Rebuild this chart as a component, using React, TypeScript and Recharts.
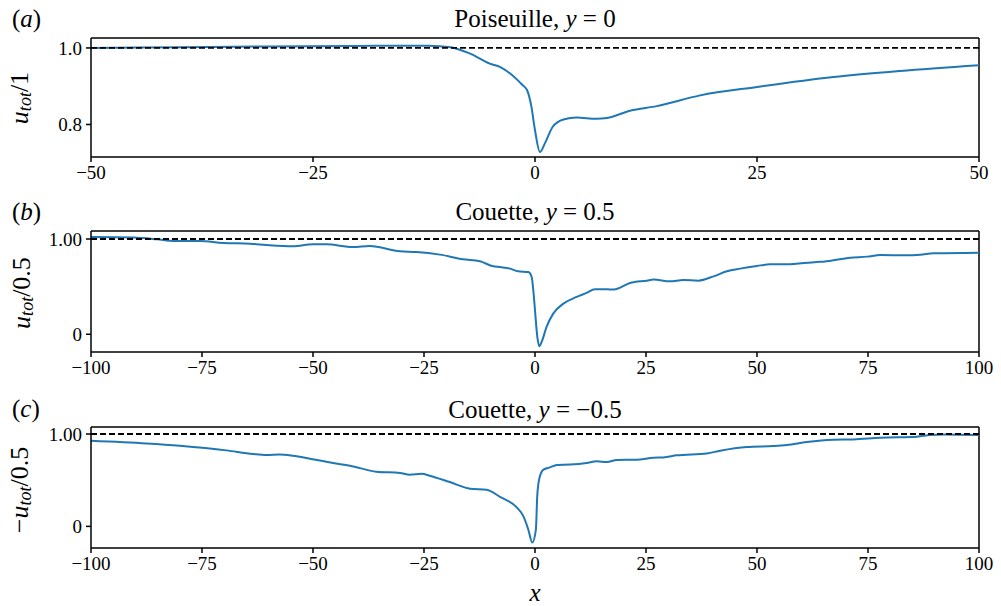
import React from 'react';
import { LineChart, Line, XAxis, YAxis, ReferenceLine } from 'recharts';

// (a) Poiseuille, y = 0
const poisX = [-50, -40, -30, -20, -15, -12, -9.5, -7.3, -5.1, -3.9, -2.8, -1.5, -0.9, -0.4, 0, 0.56, 1.1, 2.0, 3.2, 4.7, 6.9, 8.1, 10.7, 13.7, 18.6, 25, 33.6, 41.1, 50];
const poisU = [1.0, 1.002, 1.004, 1.005, 1.006, 1.006, 1.002, 0.985, 0.959, 0.95, 0.933, 0.905, 0.89, 0.846, 0.785, 0.728, 0.75, 0.794, 0.813, 0.818, 0.815, 0.817, 0.836, 0.848, 0.876, 0.898, 0.924, 0.94, 0.955];

// (b) Couette, y = 0.5
const topX = [-100, -90.4, -85.1, -81.4, -75.5, -70.2, -64.2, -60.5, -54.5, -50, -47, -41, -37.2, -30.4, -26.7, -21.4, -16.2, -12.4, -9.4, -7.9, -5.6, -3.8, -1.5, -0.75, -0.38, 0, 0.53, 0.98, 1.5, 2.6, 4.1, 6.4, 9.4, 11.6, 13.5, 16.2, 17.7, 19.2, 21.4, 25.2, 26.7, 30.4, 33.4, 36.8, 40.2, 43.2, 46.2, 50, 53, 56.7, 63.5, 65, 71, 74.8, 77.8, 83.8, 86.8, 89.8, 100];
const topU = [1.02, 1.015, 0.997, 0.98, 0.98, 0.958, 0.951, 0.937, 0.923, 0.944, 0.944, 0.916, 0.927, 0.871, 0.864, 0.836, 0.787, 0.766, 0.713, 0.706, 0.689, 0.661, 0.654, 0.601, 0.46, 0.25, -0.03, -0.126, -0.08, 0.077, 0.217, 0.322, 0.392, 0.434, 0.472, 0.472, 0.469, 0.49, 0.538, 0.563, 0.574, 0.556, 0.57, 0.563, 0.608, 0.661, 0.689, 0.717, 0.734, 0.734, 0.759, 0.762, 0.804, 0.815, 0.832, 0.829, 0.836, 0.85, 0.857];

// (c) Couette, y = -0.5
const botX = [-100, -87.5, -80, -69.5, -63.5, -60.5, -57.5, -54.5, -50.7, -45.5, -41.7, -35.7, -30.4, -28.2, -25.5, -23.7, -19.2, -14.6, -10.9, -7.9, -4.1, -2.6, -1.5, -0.6, 0.2, 0.5, 1.0, 1.9, 3.4, 4.9, 7.9, 11.6, 13.9, 16.2, 18.4, 22.9, 26.7, 28.9, 31.9, 38.7, 41.7, 47.7, 53.7, 56.7, 61.2, 67.2, 71.7, 77.8, 86, 89, 92, 100];
const botU = [0.927, 0.898, 0.873, 0.823, 0.783, 0.772, 0.779, 0.765, 0.733, 0.686, 0.657, 0.592, 0.578, 0.56, 0.57, 0.549, 0.48, 0.408, 0.397, 0.32, 0.206, 0.108, -0.036, -0.175, -0.036, 0.325, 0.524, 0.614, 0.639, 0.664, 0.669, 0.686, 0.705, 0.697, 0.72, 0.722, 0.744, 0.747, 0.769, 0.79, 0.819, 0.859, 0.87, 0.881, 0.913, 0.938, 0.942, 0.96, 0.971, 0.989, 0.996, 0.99];

const poisXTicks = [-50, -25, 0, 25, 50];
const wideXTicks = [-100, -75, -50, -25, 0, 25, 50, 75, 100];
const poisYTicks = [0.8, 1.0];
const poisYLabels = ['0.8', '1.0'];
const coueYTicks = [0, 1];
const coueYLabels = ['0', '1.00'];

const SERIF = '"Liberation Serif", "DejaVu Serif", serif';
const BLUE = '#1f77b4';
const MINUS = '\u2212';

const fmtX = (v: number) => (v < 0 ? MINUS + Math.abs(v) : String(v));

// serif tick labels drawn at the positions recharts hands us
const XTick = (props: any) => (
  <text x={props.x} y={props.y} dy="0.71em" textAnchor="middle" fontFamily={SERIF} fontSize={19} fill="#000">
    {fmtX(props.payload.value)}
  </text>
);

const makeYTick = (ticks: number[], labels: string[]) => (props: any) => (
  <text x={props.x} y={props.y} dy="0.355em" textAnchor="end" fontFamily={SERIF} fontSize={19} fill="#000">
    {labels[ticks.indexOf(props.payload.value)] ?? String(props.payload.value)}
  </text>
);

interface PanelProps {
  x: number[];
  u: number[];
  xDomain: [number, number];
  xTicks: number[];
  yDomain: [number, number];
  yTicks: number[];
  yLabels: string[];
  top: number;
  plotH: number;
}

function Panel({ x, u, xDomain, xTicks, yDomain, yTicks, yLabels, top, plotH }: PanelProps) {
  const data = x.map((xv, i) => ({ x: xv, u: u[i] }));
  const axisStyle = { stroke: '#000', strokeWidth: 1.5 };
  return (
    <div style={{ position: 'absolute', left: 0, top: top - 40 }}>
      <LineChart
        width={1001}
        height={plotH + 80}
        data={data}
        margin={{ top: 40, right: 22, bottom: 10, left: 31 }}
      >
        <XAxis
          dataKey="x"
          type="number"
          domain={xDomain}
          ticks={xTicks}
          allowDataOverflow
          interval={0}
          height={30}
          axisLine={axisStyle}
          tickLine={axisStyle}
          tickSize={5}
          tickMargin={4}
          tick={XTick}
        />
        <YAxis
          type="number"
          domain={yDomain}
          ticks={yTicks}
          allowDataOverflow
          interval={0}
          width={60}
          axisLine={axisStyle}
          tickLine={axisStyle}
          tickSize={5}
          tickMargin={4}
          tick={makeYTick(yTicks, yLabels)}
        />
        {/* top and right spines */}
        <ReferenceLine y={yDomain[1]} stroke="#000" strokeWidth={1.5} />
        <ReferenceLine x={xDomain[1]} stroke="#000" strokeWidth={1.5} />
        <Line
          type="monotone"
          dataKey="u"
          stroke={BLUE}
          strokeWidth={2}
          dot={false}
          activeDot={false}
          isAnimationActive={false}
        />
        <ReferenceLine y={1} stroke="#000" strokeWidth={1.8} strokeDasharray="6 3" />
      </LineChart>
    </div>
  );
}

function YLab({ cx, cy, pre, den }: { cx: number; cy: number; pre?: string; den: string }) {
  return (
    <text
      x={cx}
      y={cy}
      transform={`rotate(-90 ${cx} ${cy})`}
      textAnchor="middle"
      dominantBaseline="middle"
      fontFamily={SERIF}
      fontSize={26}
    >
      {pre}
      <tspan fontStyle="italic">u</tspan>
      <tspan fontStyle="italic" fontSize={18} dy={5}>tot</tspan>
      <tspan dy={-5}>/{den}</tspan>
    </text>
  );
}

function Title({ y, pre, post }: { y: number; pre: string; post: string }) {
  return (
    <text x={535} y={y} textAnchor="middle" fontFamily={SERIF} fontSize={25}>
      {pre}
      <tspan fontStyle="italic">y</tspan>
      {post}
    </text>
  );
}

function Tag({ y, letter }: { y: number; letter: string }) {
  return (
    <text x={12} y={y} fontFamily={SERIF} fontSize={25}>
      (<tspan fontStyle="italic">{letter}</tspan>)
    </text>
  );
}

export default function App() {
  return (
    <div style={{ position: 'absolute', left: 0, top: 0, width: 1001, height: 606, background: '#fff', fontFamily: SERIF }}>
      <Panel x={poisX} u={poisU} xDomain={[-50, 50]} xTicks={poisXTicks} yDomain={[0.715, 1.026]} yTicks={poisYTicks} yLabels={poisYLabels} top={38} plotH={119} />
      <Panel x={topX} u={topU} xDomain={[-100, 100]} xTicks={wideXTicks} yDomain={[-0.186, 1.084]} yTicks={coueYTicks} yLabels={coueYLabels} top={231} plotH={121} />
      <Panel x={botX} u={botU} xDomain={[-100, 100]} xTicks={wideXTicks} yDomain={[-0.234, 1.076]} yTicks={coueYTicks} yLabels={coueYLabels} top={427} plotH={121} />
      <svg width={1001} height={606} style={{ position: 'absolute', left: 0, top: 0, pointerEvents: 'none' }}>
        <Tag y={27} letter="a" />
        <Tag y={220} letter="b" />
        <Tag y={417} letter="c" />
        <Title y={27} pre="Poiseuille, " post=" = 0" />
        <Title y={220} pre="Couette, " post=" = 0.5" />
        <Title y={418} pre="Couette, " post={' = ' + MINUS + '0.5'} />
        <YLab cx={22} cy={98} den="1" />
        <YLab cx={24} cy={293} den="0.5" />
        <YLab cx={22} cy={490} pre={MINUS} den="0.5" />
        <text x={535} y={601} textAnchor="middle" fontFamily={SERIF} fontSize={25} fontStyle="italic">x</text>
      </svg>
    </div>
  );
}
